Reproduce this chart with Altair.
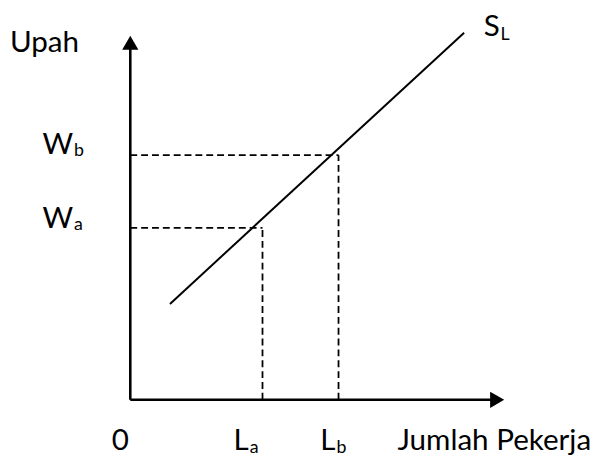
import altair as alt
import pandas as pd

# ---- data (economic units) ----
origin_x, origin_y = 0, 0
L_vals = [40, 63]          # L_a, L_b
W_vals = [52, 74]          # W_a, W_b
sub_names = ["a", "b"]
x_axis_end = 111
y_axis_end = 108
sl_x = [12, 101]           # supply curve S_L
sl_y = [29, 111]

FONT = "Lato"
FS = 30
SUB = 18
W, H = 596, 448
xs = alt.Scale(domain=[-37.0, 140.9], nice=False, zero=False)
ys = alt.Scale(domain=[-16.1, 117.6], nice=False, zero=False)

def X(f="x"):
    return alt.X(f"{f}:Q", scale=xs, axis=None)

def Y(f="y"):
    return alt.Y(f"{f}:Q", scale=ys, axis=None)

layers = []

# axes
axes_h = pd.DataFrame({"x": [origin_x], "x2": [x_axis_end], "y": [origin_y]})
axes_v = pd.DataFrame({"x": [origin_x], "y": [origin_y], "y2": [y_axis_end]})
layers.append(alt.Chart(axes_h).mark_rule(color="black", strokeWidth=2.6).encode(x=X(), x2="x2:Q", y=Y()))
layers.append(alt.Chart(axes_v).mark_rule(color="black", strokeWidth=2.6).encode(x=X(), y=Y(), y2="y2:Q"))

# arrow heads
arr_r = pd.DataFrame({"x": [x_axis_end], "y": [origin_y]})
arr_u = pd.DataFrame({"x": [origin_x], "y": [y_axis_end]})
layers.append(alt.Chart(arr_r).mark_point(shape="triangle-right", filled=True, color="black", size=270, opacity=1).encode(x=X(), y=Y()))
layers.append(alt.Chart(arr_u).mark_point(shape="triangle-up", filled=True, color="black", size=270, opacity=1).encode(x=X(), y=Y()))

# dashed guides
dash_h = pd.DataFrame({"x": [origin_x] * 2, "x2": L_vals, "y": W_vals})
dash_v = pd.DataFrame({"x": L_vals, "y": [origin_y] * 2, "y2": W_vals})
layers.append(alt.Chart(dash_h).mark_rule(color="black", strokeWidth=1.8, strokeDash=[7, 4]).encode(x=X(), x2="x2:Q", y=Y()))
layers.append(alt.Chart(dash_v).mark_rule(color="black", strokeWidth=1.8, strokeDash=[7, 4]).encode(x=X(), y=Y(), y2="y2:Q"))

# supply line
sl = pd.DataFrame({"x": sl_x, "y": sl_y})
layers.append(alt.Chart(sl).mark_line(color="black", strokeWidth=2).encode(x=X(), y=Y()))

def txt(x, y, t, size, align, dx, dy):
    d = pd.DataFrame({"x": [x], "y": [y], "t": [t]})
    return alt.Chart(d).mark_text(font=FONT, fontSize=size, align=align, baseline="alphabetic",
                                  dx=dx, dy=dy, color="black").encode(x=X(), y=Y(), text="t:N")

# axis titles
layers.append(txt(origin_x, y_axis_end, "Upah", FS, "right", -52, 9))
layers.append(txt(x_axis_end, origin_y, "Jumlah Pekerja", 30, "left", -101, 51))
layers.append(txt(origin_x, origin_y, "0", FS, "center", -10, 51))

# W labels
for w, s, dyw, dys in zip(W_vals, sub_names, [0, -1], [2, 1]):
    layers.append(txt(origin_x, w, "W", FS, "right", -58, dyw))
    layers.append(txt(origin_x, w, s, SUB, "left", -57, dys))

# L labels
for l, s, dxl in zip(L_vals, sub_names, [-14, -3]):
    layers.append(txt(l, origin_y, "L", FS, "right", dxl, 51))
    layers.append(txt(l, origin_y, s, SUB, "left", dxl + 1, 54))

# S_L label
layers.append(txt(sl_x[1], sl_y[1], "S", FS, "left", 20, 3))
layers.append(txt(sl_x[1], sl_y[1], "L", SUB, "left", 37, 7))

chart = alt.layer(*layers).properties(
    width=W, height=H, autosize=alt.AutoSizeParams(type="none"), padding=0, background="white"
).configure_view(stroke=None)

chart.save("out.html", embed_options={"renderer": "svg", "actions": False})
